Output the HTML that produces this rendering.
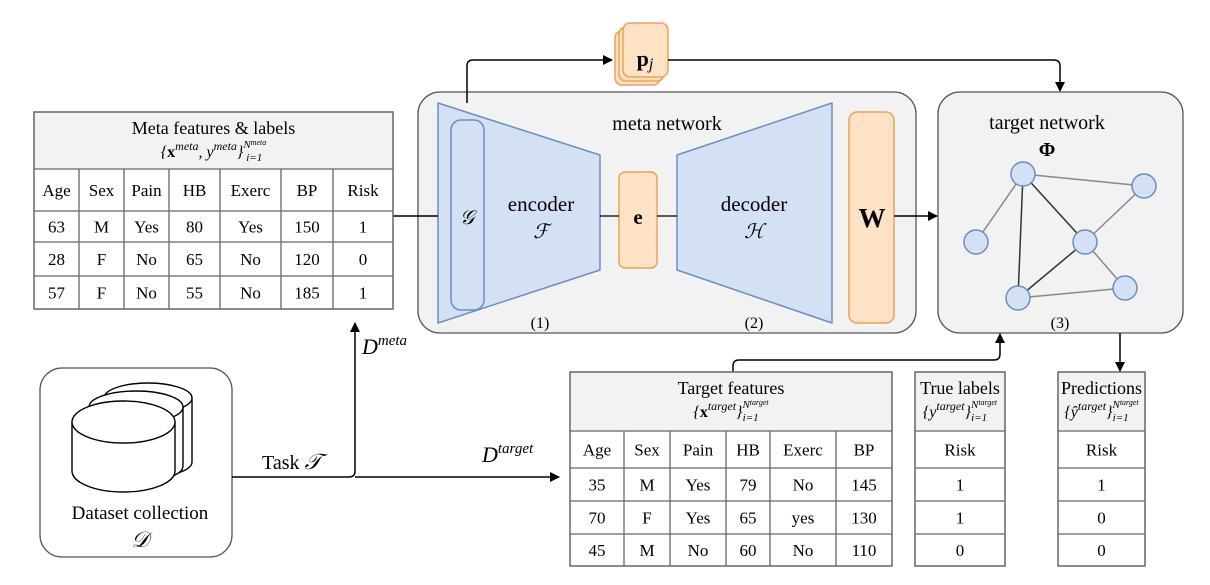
<!DOCTYPE html>
<html><head><meta charset="utf-8"><style>
html,body{margin:0;padding:0;background:#fff;}
svg{display:block;font-family:"Liberation Serif",serif;}
</style></head><body>
<svg id="s" width="1210" height="585" viewBox="0 0 1210 585">
<defs><marker id="ar" markerWidth="10" markerHeight="10" refX="9" refY="5" orient="auto" markerUnits="userSpaceOnUse"><path d="M0,0 L10,5 L0,10 Z" fill="#000"/></marker></defs>

<rect x="418" y="92" width="498" height="241" rx="22" fill="#f2f2f2" stroke="#555" stroke-width="1.3"/>
<text x="667" y="130" font-size="20" text-anchor="middle">meta network</text>
<polygon points="438,103 600,155 600,270 438,323" fill="#d4e1f5" stroke="#6c8ebf" stroke-width="1.5" stroke-linejoin="round"/>
<rect x="451" y="120" width="33" height="190" rx="10" fill="#d4e1f5" stroke="#6c8ebf" stroke-width="1.5"/>
<text x="467" y="224" font-size="20" font-style="italic" text-anchor="middle">𝒢</text>
<text x="541" y="211" font-size="21" text-anchor="middle">encoder</text>
<text x="541" y="238" font-size="20" font-style="italic" text-anchor="middle">ℱ</text>
<text x="540" y="328" font-size="16" text-anchor="middle">(1)</text>
<rect x="619" y="172" width="38" height="96" rx="6" fill="#fde2c6" stroke="#eba25a" stroke-width="1.5"/>
<text x="638" y="224" font-size="21" font-weight="bold" text-anchor="middle">e</text>
<polygon points="677,155 832,103 832,323 677,270" fill="#d4e1f5" stroke="#6c8ebf" stroke-width="1.5" stroke-linejoin="round"/>
<text x="754" y="211" font-size="21" text-anchor="middle">decoder</text>
<text x="754" y="238" font-size="20" font-style="italic" text-anchor="middle">ℋ</text>
<text x="754" y="328" font-size="16" text-anchor="middle">(2)</text>
<rect x="849" y="112" width="45" height="211" rx="8" fill="#fde2c6" stroke="#eba25a" stroke-width="1.5"/>
<text x="872" y="227" font-size="27" font-weight="bold" text-anchor="middle">W</text>
<line x1="600" y1="216" x2="619" y2="216" stroke="#000" stroke-width="1.3"/>
<line x1="657" y1="216" x2="677" y2="216" stroke="#000" stroke-width="1.3"/>

<rect x="615" y="31" width="45" height="54" rx="7" fill="#fde2c6" stroke="#eba25a" stroke-width="1.5"/>
<rect x="619" y="27" width="45" height="54" rx="7" fill="#fde2c6" stroke="#eba25a" stroke-width="1.5"/>
<rect x="623" y="23" width="45" height="54" rx="7" fill="#fde2c6" stroke="#eba25a" stroke-width="1.5"/>
<text x="645" y="66" font-size="22" text-anchor="middle"><tspan font-weight="bold">p</tspan><tspan font-style="italic" font-size="16" dy="3">j</tspan></text>
<path d="M467,103 V66 Q467,60 473,60 H612" fill="none" stroke="#000" stroke-width="1.5" marker-end="url(#ar)"/>
<path d="M668,60 H1054 Q1060,60 1060,66 V91" fill="none" stroke="#000" stroke-width="1.5" marker-end="url(#ar)"/>
<line x1="393" y1="216" x2="438" y2="216" stroke="#000" stroke-width="1.5"/>
<line x1="894" y1="216" x2="937" y2="216" stroke="#000" stroke-width="1.5" marker-end="url(#ar)"/>

<rect x="938" y="92" width="245" height="241" rx="22" fill="#f2f2f2" stroke="#555" stroke-width="1.3"/>
<text x="1047" y="129" font-size="20" text-anchor="middle">target network</text>
<text x="1047" y="156" font-size="20" font-weight="bold" text-anchor="middle">Φ</text>
<g id="net"></g>
<text x="1060" y="328" font-size="16" text-anchor="middle">(3)</text>

<rect x="40" y="368" width="192" height="189" rx="22" fill="#fff" stroke="#555" stroke-width="1.3"/>
<g id="cyl"></g>
<text x="140" y="519" font-size="19" text-anchor="middle">Dataset collection</text>
<text x="140" y="547" font-size="22" font-style="italic" text-anchor="middle">𝒟</text>
<path d="M232,477 H349 Q355,477 355,471 V323" fill="none" stroke="#000" stroke-width="1.5" marker-end="url(#ar)"/>
<line x1="355" y1="477" x2="559" y2="477" stroke="#000" stroke-width="1.5" marker-end="url(#ar)"/>
<text x="262" y="469" font-size="20">Task <tspan font-style="italic" font-size="22">𝒯</tspan></text>
<text x="362" y="354" font-size="22" font-style="italic">D<tspan font-size="15" dy="-9">meta</tspan></text>
<text x="482" y="462" font-size="22" font-style="italic">D<tspan font-size="15" dy="-9">target</tspan></text>
<path d="M733,372 V366 Q733,360 739,360 H994 Q1000,360 1000,354 V334" fill="none" stroke="#000" stroke-width="1.5" marker-end="url(#ar)"/>
<line x1="1120" y1="333" x2="1120" y2="371" stroke="#000" stroke-width="1.5" marker-end="url(#ar)"/>
<g id="tables"></g>
</svg>
<script>
const NS="http://www.w3.org/2000/svg";
function mk(p,t,a){const e=document.createElementNS(NS,t);for(const k in a)e.setAttribute(k,a[k]);p.appendChild(e);return e;}
const nodes=[[1023,174],[1144,186],[976,242],[1085,242],[1018,298],[1125,288]];
const edges=[[0,1,"#888"],[0,2,"#888"],[0,3,"#333"],[0,4,"#333"],[3,4,"#333"],[3,1,"#888"],[3,5,"#888"],[4,5,"#888"]];
const net=document.getElementById('net');
edges.forEach(([a,b,c])=>{const l=mk(net,'line',{x1:nodes[a][0],y1:nodes[a][1],x2:nodes[b][0],y2:nodes[b][1],stroke:c,'stroke-width':1.5});

});
nodes.forEach(([x,y])=>{const c=mk(net,'circle',{cx:x,cy:y,r:12,fill:'#d4e1f5',stroke:'#6c8ebf','stroke-width':1.5});

});
const cyl=document.getElementById('cyl');
[[148,398,44,15,462],[136,407,47,16,466],[123.5,422,51.5,21,471]].forEach(([cx,t,rx,ry,b])=>{
 const g=mk(cyl,'g',{});
 
 
 mk(g,'path',{d:`M${cx-rx},${t} V${b} A${rx},${ry} 0 0 0 ${cx+rx},${b} V${t}`,fill:'#fff',stroke:'#000','stroke-width':1.4});
 mk(g,'ellipse',{cx:cx,cy:t,rx:rx,ry:ry,fill:'#fff',stroke:'#000','stroke-width':1.4});
});
const tg=document.getElementById('tables');
function table(name,cols,ys,titleLines,headers,rows){
 const g=mk(tg,'g',{});
 
 
 const x1=cols[cols.length-1];
 mk(g,'rect',{x:cols[0],y:ys[0],width:x1-cols[0],height:ys[1]-ys[0],fill:'#f2f2f2'});
 mk(g,'rect',{x:cols[0],y:ys[0],width:x1-cols[0],height:ys[ys.length-1]-ys[0],fill:'none',stroke:'#666','stroke-width':1.5});
 for(let i=1;i<ys.length-1;i++)mk(g,'line',{x1:cols[0],x2:x1,y1:ys[i],y2:ys[i],stroke:'#666','stroke-width':1.3});
 for(let j=1;j<cols.length-1;j++)mk(g,'line',{x1:cols[j],x2:cols[j],y1:ys[1],y2:ys[ys.length-1],stroke:'#666','stroke-width':1.3});
 const cx=(cols[0]+x1)/2;
 const t1=mk(g,'text',{x:cx,y:ys[0]+22,'font-size':18,'text-anchor':'middle'});t1.textContent=titleLines[0];
 const t2=mk(g,'text',{x:cx,y:ys[0]+45,'font-size':16,'text-anchor':'middle','font-style':'italic'});t2.innerHTML=titleLines[1];
 const all=[headers].concat(rows);
 all.forEach((r,i)=>r.forEach((v,j)=>{const t=mk(g,'text',{x:(cols[j]+cols[j+1])/2,y:(ys[i+1]+ys[i+2])/2+6,'font-size':17,'text-anchor':'middle'});t.textContent=v;
  
  }));
}
const metaHeaders=["Age","Sex","Pain","HB","Exerc","BP","Risk"];
const metaRows=[["63","M","Yes","80","Yes","150","1"],["28","F","No","65","No","120","0"],["57","F","No","55","No","185","1"]];
const tgtHeaders=["Age","Sex","Pain","HB","Exerc","BP"];
const tgtRows=[["35","M","Yes","79","No","145"],["70","F","Yes","65","yes","130"],["45","M","No","60","No","110"]];
const sup=(s)=>`<tspan font-size="12" dy="-7">${s}</tspan>`;
const tail=(s)=>`<tspan dy="7">}</tspan><tspan font-size="11" dy="-9">N</tspan><tspan font-size="8" dy="-3">${s}</tspan><tspan font-size="11" dx="-${s.length*3+8}" dy="16">i=1</tspan>`;
table('meta-table',[34,79,124,169,220,281,333,393],[112,169,211,242,276,309],["Meta features & labels",'{<tspan font-weight="bold" font-style="normal">x</tspan>'+sup('meta')+'<tspan dy="7">, y</tspan>'+sup('meta')+tail('meta')],metaHeaders,metaRows);
table('target-features-table',[570,624,670,726,770,836,892],[372,431,468,501,534,566],["Target features",'{<tspan font-weight="bold" font-style="normal">x</tspan>'+sup('target')+tail('target')],tgtHeaders,tgtRows);
table('true-labels-table',[915,1005],[372,431,468,501,534,566],["True labels",'{y'+sup('target')+tail('target')],["Risk"],[["1"],["1"],["0"]]);
table('predictions-table',[1058,1145],[372,431,468,501,534,566],["Predictions",'{ŷ'+sup('target')+tail('target')],["Risk"],[["1"],["0"],["0"]]);
</script>
</body></html>
